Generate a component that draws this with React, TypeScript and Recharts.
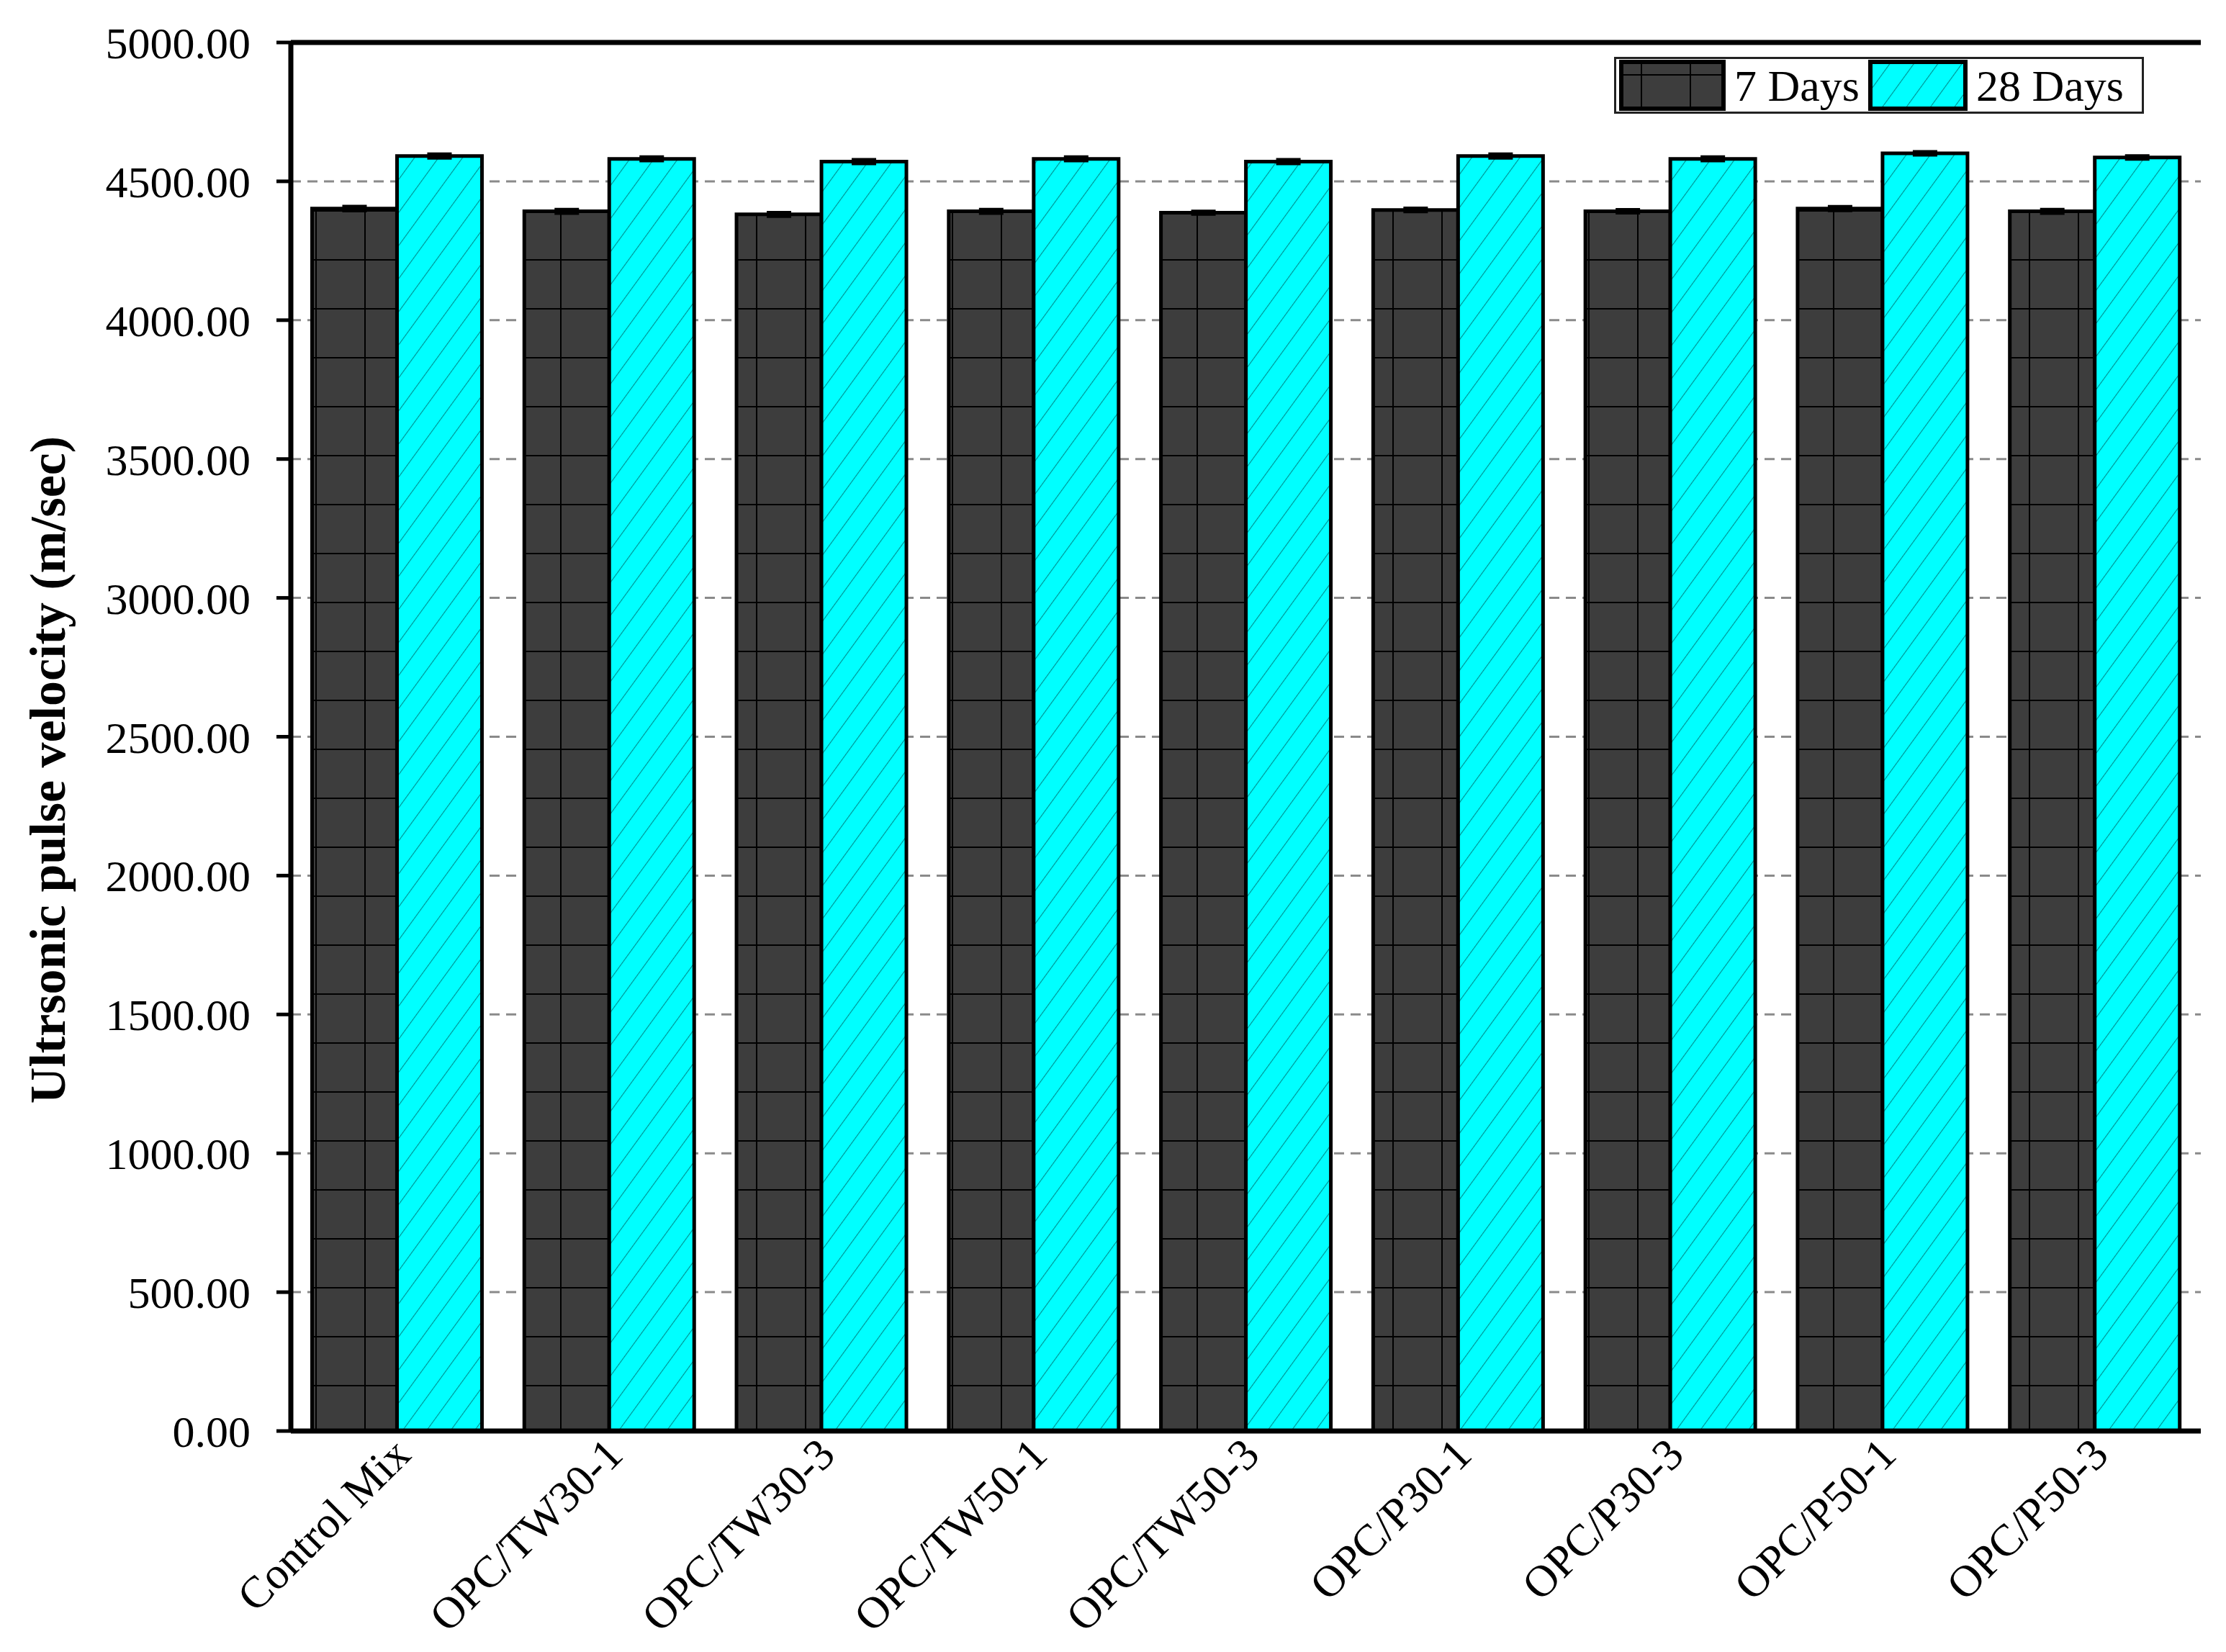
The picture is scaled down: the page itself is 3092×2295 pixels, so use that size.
import { BarChart, Bar, XAxis, YAxis, CartesianGrid, ErrorBar, ReferenceLine } from 'recharts';

const categories = [
  'Control Mix', 'OPC/TW30-1', 'OPC/TW30-3', 'OPC/TW50-1', 'OPC/TW50-3',
  'OPC/P30-1', 'OPC/P30-3', 'OPC/P50-1', 'OPC/P50-3',
];
const days7 = [4402, 4392, 4381, 4392, 4387, 4397, 4392, 4402, 4392];
const days28 = [4591, 4581, 4571, 4581, 4571, 4591, 4581, 4601, 4586];
const err7 = [6, 5, 5, 5, 3, 4, 4, 5, 5];
const err28 = [5, 5, 5, 5, 5, 5, 5, 4, 4];
const yTicks = [0, 500, 1000, 1500, 2000, 2500, 3000, 3500, 4000, 4500, 5000];
const seriesNames = ['7 Days', '28 Days'];

const data = categories.map((name, i) => ({
  name,
  d7: days7[i],
  d28: days28[i],
  e7: err7[i],
  e28: err28[i],
}));

const FONT = '"Liberation Serif", "Times New Roman", serif';
const DARK = '#3d3d3d';
const CYAN = '#00ffff';

function CategoryTick({ x, y, payload }: any) {
  const ax = x + 22;
  const ay = y + 36;
  return (
    <text
      x={ax}
      y={ay}
      textAnchor="end"
      transform={`rotate(-45, ${ax}, ${ay})`}
      fontFamily={FONT}
      fontSize={62}
      fill="#000"
    >
      {payload.value}
    </text>
  );
}

function AxisTitle({ viewBox }: any) {
  const cx = 66;
  const cy = viewBox.y + viewBox.height / 2 + 46;
  return (
    <text
      x={cx}
      y={cy}
      textAnchor="middle"
      dominantBaseline="central"
      transform={`rotate(-90, ${cx}, ${cy})`}
      fontFamily={FONT}
      fontSize={70}
      fontWeight="bold"
      fill="#000"
    >
      Ultrsonic pulse velocity (m/sec)
    </text>
  );
}

// legend box drawn over the chart, swatches reuse the chart's patterns
function LegendBox() {
  const item = (fill: string, label: string, w: number) => (
    <div key={label} style={{ display: 'flex', alignItems: 'center' }}>
      <svg width={w} height={71} style={{ display: 'block' }}>
        <rect x={3} y={3} width={w - 6} height={65} fill={fill} stroke="#000" strokeWidth={6} />
      </svg>
      <span style={{ margin: '0 12px', fontSize: 62, lineHeight: '64px' }}>{label}</span>
    </div>
  );
  return (
    <div
      style={{
        position: 'absolute',
        left: 2242,
        top: 79,
        display: 'flex',
        alignItems: 'center',
        border: '3px solid #222',
        background: '#fff',
        padding: '2px 0 2px 4px',
        fontFamily: FONT,
        color: '#000',
        boxSizing: 'border-box',
        width: 736,
        height: 79,
      }}
    >
      {item('url(#gridFill)', seriesNames[0], 148)}
      {item('url(#hatchFill)', seriesNames[1], 138)}
    </div>
  );
}

export default function App() {
  return (
    <div style={{ position: 'absolute', left: 0, top: 0, width: 3092, height: 2295, background: '#fff' }}>
      <BarChart
        width={3092}
        height={2295}
        data={data}
        margin={{ top: 59, right: 35, left: 0, bottom: 0 }}
        barCategoryGap="10%"
        barGap={0}
      >
        <defs>
          <pattern id="gridFill" width="68" height="68" patternUnits="userSpaceOnUse" x="30" y="20">
            <rect width="68" height="68" fill={DARK} />
            <line x1="0" y1="0" x2="68" y2="0" stroke="#000" strokeWidth="4" />
            <line x1="0" y1="0" x2="0" y2="68" stroke="#000" strokeWidth="4" />
          </pattern>
          <pattern id="hatchFill" width="27" height="27" patternUnits="userSpaceOnUse" patternTransform="rotate(36)">
            <rect width="27" height="27" fill={CYAN} />
            <line x1="0" y1="0" x2="0" y2="27" stroke="#006868" strokeWidth="2.2" strokeOpacity="0.75" />
          </pattern>
        </defs>
        <CartesianGrid vertical={false} stroke="#8a8a8a" strokeWidth={3} strokeDasharray="14 9" />
        <XAxis
          dataKey="name"
          height={307}
          tickLine={false}
          tickSize={0}
          tickMargin={0}
          interval={0}
          tick={<CategoryTick />}
          axisLine={{ stroke: '#000', strokeWidth: 7 }}
        />
        <YAxis
          width={404}
          domain={[0, 5000]}
          ticks={yTicks}
          interval={0}
          tickFormatter={(v: number) => v.toFixed(2)}
          tick={{ fill: '#000', fontSize: 62, fontFamily: FONT }}
          tickSize={20}
          tickMargin={36}
          tickLine={{ stroke: '#000', strokeWidth: 5 }}
          axisLine={{ stroke: '#000', strokeWidth: 7 }}
          label={<AxisTitle />}
        />
        <YAxis yAxisId="right" orientation="right" width={0} domain={[0, 5000]} tick={false} tickLine={false} axisLine={{ stroke: '#000', strokeWidth: 7 }} />
        <ReferenceLine y={5000} stroke="#000" strokeWidth={7} />
        <Bar dataKey="d7" name={seriesNames[0]} fill="url(#gridFill)" stroke="#000" strokeWidth={5} isAnimationActive={false}>
          <ErrorBar dataKey="e7" width={17} strokeWidth={6} stroke="#000" direction="y" />
        </Bar>
        <Bar dataKey="d28" name={seriesNames[1]} fill="url(#hatchFill)" stroke="#000" strokeWidth={5} isAnimationActive={false}>
          <ErrorBar dataKey="e28" width={17} strokeWidth={6} stroke="#000" direction="y" />
        </Bar>
      </BarChart>
      <LegendBox />
    </div>
  );
}
